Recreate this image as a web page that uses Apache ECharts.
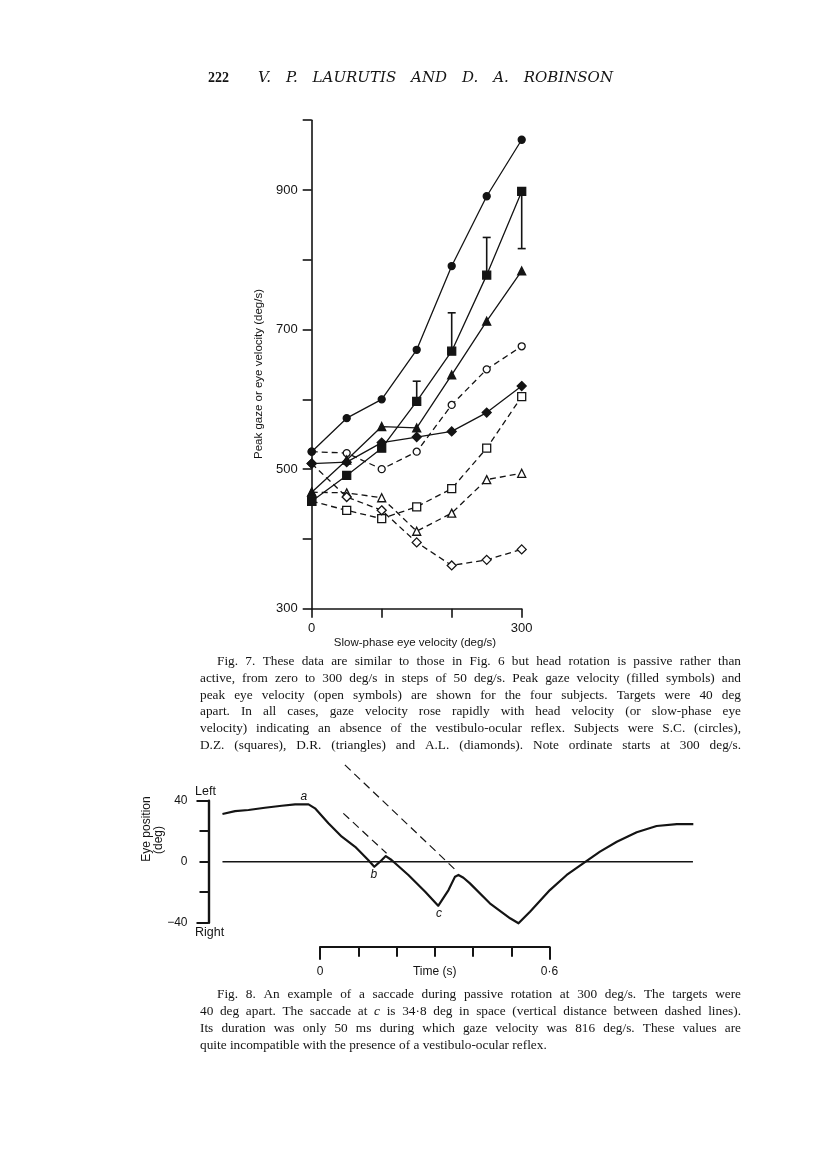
<!DOCTYPE html>
<html><head><meta charset="utf-8">
<script src="https://cdn.jsdelivr.net/npm/echarts@6/dist/echarts.min.js"></script>
<style>html,body{margin:0;padding:0;background:#fff}#c{width:816px;height:1155px}</style>
</head><body><div id="c"></div>
<script>
// ---------- Fig. 7 data ----------
const fig7X = [0, 50, 100, 150, 200, 250, 300];
const gazeSC = [525, 573, 600, 671, 791, 891, 972];
const gazeDZ = [454, 491, 530, 597, 669, 778, 898];
const gazeDR = [467, 513, 561, 559, 635, 712, 784];
const gazeAL = [508, 510, 538, 546, 554, 581, 619];
const eyeSC = [525, 523, 500, 525, 592, 643, 676];
const eyeDZ = [454, 441, 429, 446, 472, 530, 604];
const eyeDR = [467, 466, 459, 411, 437, 485, 494];
const eyeAL = [508, 460, 441, 395, 362, 370, 385];
const errBarX = [150, 200, 250, 300];
const errBarEnd = [626, 724, 832, 816];
const fig7YLabelled = [300, 500, 700, 900];
const fig7XLabelled = [0, 300];

// ---------- Fig. 8 data ----------
const traceT = [-0.255, -0.222, -0.187, -0.144, -0.100, -0.065, -0.030, -0.013, 0.022, 0.057, 0.092, 0.126, 0.142, 0.157, 0.172, 0.187, 0.231, 0.275, 0.309, 0.336, 0.353, 0.362, 0.375, 0.392, 0.444, 0.497, 0.519, 0.549, 0.601, 0.645, 0.688, 0.732, 0.776, 0.828, 0.880, 0.933, 0.976];
const traceDeg = [31.3, 33.2, 33.9, 35.4, 36.7, 37.6, 37.6, 35.0, 25.2, 16.4, 9.8, 1.1, -3.3, 0.0, 3.7, 1.1, -8.7, -19.7, -28.9, -18.6, -9.8, -8.7, -10.5, -14.2, -27.3, -37.1, -40.4, -32.8, -18.6, -8.7, -1.1, 6.6, 13.1, 19.3, 23.4, 24.7, 24.7];
const zeroLineT = [-0.255, 0.975];
const zeroLineDeg = [0, 0];
const dashLongT = [0.065, 0.359];
const dashLongDeg = [63.5, -6.5];
const dashShortT = [0.061, 0.174];
const dashShortDeg = [31.7, 5.5];
const eventNames = ['a', 'b', 'c'];
const eventT = [-0.042, 0.141, 0.311];
const eventDeg = [37.6, -3.3, -28.9];
const fig8YLabels = {'40': '40', '0': '0', '-40': '\u221240'};
const timeLabels = {'0': '0', '3': 'Time (s)', '6': '0\u00b76'};

// ---------- Texts ----------
const pageNumber = '222';
const runningTitle = ['V.', 'P.', 'LAURUTIS', 'AND', 'D.', 'A.', 'ROBINSON'];
const fig7YName = 'Peak gaze or eye velocity (deg/s)';
const fig7XName = 'Slow-phase eye velocity (deg/s)';
const caption7 = [
  'Fig. 7. These data are similar to those in Fig. 6 but head rotation is passive rather than',
  'active, from zero to 300 deg/s in steps of 50 deg/s. Peak gaze velocity (filled symbols) and',
  'peak eye velocity (open symbols) are shown for the four subjects. Targets were 40 deg',
  'apart. In all cases, gaze velocity rose rapidly with head velocity (or slow-phase eye',
  'velocity) indicating an absence of the vestibulo-ocular reflex. Subjects were S.C. (circles),',
  'D.Z. (squares), D.R. (triangles) and A.L. (diamonds). Note ordinate starts at 300 deg/s.'
];
const caption8 = [
  'Fig. 8. An example of a saccade during passive rotation at 300 deg/s. The targets were',
  '40 deg apart. The saccade at *c* is 34\u00b78 deg in space (vertical distance between dashed lines).',
  'Its duration was only 50 ms during which gaze velocity was 816 deg/s. These values are',
  'quite incompatible with the presence of a vestibulo-ocular reflex.'
];

// ---------- helpers ----------
const INK = '#141414';
const SANS = '"Liberation Sans", Arial, sans-serif';
const SERIF = '"Liberation Serif", "Times New Roman", serif';
const REG = '13.3px ' + SERIF;
const ITAL = 'italic 13.3px ' + SERIF;
const mctx = document.createElement('canvas').getContext('2d');
function tw(s, font) { mctx.font = font; return mctx.measureText(s).width; }

function justifyWords(words, fonts, x0, x1, y, justify) {
  const widths = words.map((w, k) => tw(w, fonts[k]));
  const total = widths.reduce((a, b) => a + b, 0);
  const gap = justify && words.length > 1 ? (x1 - x0 - total) / (words.length - 1) : tw(' ', fonts[0]);
  const out = [];
  let x = x0;
  words.forEach((w, k) => {
    out.push({type: 'text', x: x, y: y, silent: true,
      style: {text: w, font: fonts[k], fill: INK, textAlign: 'left', textVerticalAlign: 'middle'}});
    x += widths[k] + gap;
  });
  return out;
}
function captionEls(lines, top, lineH, left, right, indent, lastJustified) {
  let els = [];
  lines.forEach((line, i) => {
    const raw = line.split(' ');
    const fonts = raw.map(w => w.startsWith('*') ? ITAL : REG);
    const words = raw.map(w => w.replace(/\*/g, ''));
    const justify = i < lines.length - 1 || lastJustified;
    els = els.concat(justifyWords(words, fonts, left + (i === 0 ? indent : 0), right, top + i * lineH, justify));
  });
  return els;
}

// ---------- Fig. 7 series ----------
const fig7Defs = [
  {data: eyeSC, symbol: 'circle', size: 7, filled: false},
  {data: eyeDZ, symbol: 'rect', size: 8, filled: false},
  {data: eyeDR, symbol: 'triangle', size: 8, filled: false},
  {data: eyeAL, symbol: 'diamond', size: 9, filled: false},
  {data: gazeSC, symbol: 'circle', size: 7, filled: true},
  {data: gazeDZ, symbol: 'rect', size: 8, filled: true},
  {data: gazeDR, symbol: 'triangle', size: 8, filled: true},
  {data: gazeAL, symbol: 'diamond', size: 9, filled: true}
];
const series = fig7Defs.map(d => ({
  type: 'line', xAxisIndex: 0, yAxisIndex: 0,
  data: fig7X.map((x, i) => [x, d.data[i]]),
  symbol: d.symbol, symbolSize: d.size, showSymbol: true,
  z: d.filled ? 4 : 3,
  lineStyle: {color: INK, width: 1.3, type: d.filled ? 'solid' : [6, 4]},
  itemStyle: {color: d.filled ? INK : '#fff', borderColor: INK, borderWidth: 1.3},
  emphasis: {disabled: true}, animation: false
}));
series.push({
  type: 'custom', xAxisIndex: 0, yAxisIndex: 0, z: 5,
  data: errBarX.map((x, i) => [x, gazeDZ[fig7X.indexOf(x)], errBarEnd[i]]),
  encode: {x: 0, y: [1, 2]},
  renderItem: function (params, api) {
    const p0 = api.coord([api.value(0), api.value(1)]);
    const p1 = api.coord([api.value(0), api.value(2)]);
    const hw = 4;
    return {type: 'group', children: [
      {type: 'line', shape: {x1: p0[0], y1: p0[1], x2: p1[0], y2: p1[1]}, style: {stroke: INK, lineWidth: 1.6}},
      {type: 'line', shape: {x1: p1[0] - hw, y1: p1[1], x2: p1[0] + hw, y2: p1[1]}, style: {stroke: INK, lineWidth: 1.6}}
    ]};
  },
  animation: false
});

// ---------- Fig. 8 series ----------
series.push({
  type: 'line', xAxisIndex: 1, yAxisIndex: 1, showSymbol: false, symbol: 'none', clip: false,
  data: zeroLineT.map((t, i) => [t, zeroLineDeg[i]]),
  lineStyle: {color: INK, width: 1.6}, animation: false
});
series.push({
  type: 'line', xAxisIndex: 1, yAxisIndex: 1, showSymbol: false, symbol: 'none', clip: false,
  data: dashLongT.map((t, i) => [t, dashLongDeg[i]]),
  lineStyle: {color: INK, width: 1.2, type: [8, 5]}, animation: false
});
series.push({
  type: 'line', xAxisIndex: 1, yAxisIndex: 1, showSymbol: false, symbol: 'none', clip: false,
  data: dashShortT.map((t, i) => [t, dashShortDeg[i]]),
  lineStyle: {color: INK, width: 1.2, type: [8, 5]}, animation: false
});
series.push({
  type: 'line', xAxisIndex: 1, yAxisIndex: 1, showSymbol: false, symbol: 'none', clip: false,
  data: traceT.map((t, i) => [t, traceDeg[i]]),
  lineStyle: {color: INK, width: 2.2, join: 'round'}, animation: false,
  markPoint: {
    symbol: 'circle', symbolSize: 0, silent: true, animation: false,
    label: {show: true, formatter: '{b}', color: INK, fontFamily: SANS, fontStyle: 'italic', fontSize: 12},
    data: eventNames.map((n, i) => ({name: n, coord: [eventT[i], eventDeg[i]],
      label: {position: i === 0 ? 'top' : 'bottom', distance: 2}}))
  }
});

// ---------- graphic texts ----------
let graphic = [];
graphic.push({type: 'text', x: 208, y: 78, silent: true,
  style: {text: pageNumber, font: 'bold 14px ' + SERIF, fill: INK, textAlign: 'left', textVerticalAlign: 'middle'}});
graphic = graphic.concat(justifyWords(runningTitle, runningTitle.map(() => 'italic 15px "DejaVu Serif", serif'), 258, 613, 78, true));
graphic.push({type: 'text', x: 259, y: 374, rotation: Math.PI / 2, silent: true,
  style: {text: fig7YName, font: '11.5px ' + SANS, fill: INK, textAlign: 'center', textVerticalAlign: 'middle'}});
graphic.push({type: 'text', x: 415, y: 643, silent: true,
  style: {text: fig7XName, font: '11.5px ' + SANS, fill: INK, textAlign: 'center', textVerticalAlign: 'middle'}});
graphic = graphic.concat(captionEls(caption7, 661.5, 16.8, 200, 741, 17, true));
graphic.push({type: 'text', x: 147, y: 829, rotation: Math.PI / 2, silent: true,
  style: {text: 'Eye position', font: '12px ' + SANS, fill: INK, textAlign: 'center', textVerticalAlign: 'middle'}});
graphic.push({type: 'text', x: 159, y: 840, rotation: Math.PI / 2, silent: true,
  style: {text: '(deg)', font: '12px ' + SANS, fill: INK, textAlign: 'center', textVerticalAlign: 'middle'}});
graphic.push({type: 'text', x: 195, y: 792, silent: true,
  style: {text: 'Left', font: '12.5px ' + SANS, fill: INK, textAlign: 'left', textVerticalAlign: 'middle'}});
graphic.push({type: 'text', x: 195, y: 933, silent: true,
  style: {text: 'Right', font: '12.5px ' + SANS, fill: INK, textAlign: 'left', textVerticalAlign: 'middle'}});
graphic = graphic.concat(captionEls(caption8, 995, 16.8, 200, 741, 17, false));

const axisLineStyle = {color: INK, width: 1.6};
const option = {
  backgroundColor: '#fff',
  animation: false,
  textStyle: {fontFamily: SANS, color: INK},
  grid: [
    {left: 311.7, top: 120.2, width: 210, height: 488.5, outerBoundsMode: 'none'},
    {left: 208.5, top: 800.7, width: 494, height: 122, outerBoundsMode: 'none'},
    {left: 320, top: 900, width: 229.5, height: 46.7, outerBoundsMode: 'none'}
  ],
  xAxis: [
    {gridIndex: 0, type: 'value', min: 0, max: 300, interval: 100,
      axisLine: {lineStyle: axisLineStyle, onZero: false},
      axisTick: {length: 9, lineStyle: axisLineStyle},
      axisLabel: {margin: 13, fontSize: 13, color: INK, fontFamily: SANS,
        formatter: v => fig7XLabelled.includes(v) ? String(v) : ''},
      splitLine: {show: false}},
    {gridIndex: 1, type: 'value', min: -0.2915, max: 1.0, show: false},
    {gridIndex: 2, type: 'value', min: 0, max: 0.6, interval: 0.1, position: 'bottom', offset: 0,
      axisLine: {lineStyle: {color: INK, width: 2}, onZero: false},
      axisTick: {length: 10, lineStyle: {color: INK, width: 2}},
      axisLabel: {margin: 19, fontSize: 12, color: INK, fontFamily: SANS, showMinLabel: true, showMaxLabel: true,
        formatter: v => timeLabels[String(Math.round(v * 10))] || ''},
      splitLine: {show: false}},
    {gridIndex: 2, type: 'value', min: 0, max: 0.6, interval: 0.6, position: 'bottom', offset: 0,
      axisLine: {show: false, onZero: false},
      axisTick: {length: 13, lineStyle: {color: INK, width: 2}},
      axisLabel: {show: false}, splitLine: {show: false}}
  ],
  yAxis: [
    {gridIndex: 0, type: 'value', min: 300, max: 1000, interval: 100,
      axisLine: {show: true, lineStyle: axisLineStyle, onZero: false},
      axisTick: {show: true, length: 9, lineStyle: axisLineStyle},
      axisLabel: {margin: 14, fontSize: 13, color: INK, fontFamily: SANS,
        formatter: v => fig7YLabelled.includes(v) ? String(v) : ''},
      splitLine: {show: false}},
    {gridIndex: 1, type: 'value', min: -40, max: 40, interval: 20, position: 'left', offset: 0,
      axisLine: {show: true, lineStyle: {color: INK, width: 2.4}, onZero: false},
      axisTick: {show: true, length: 9, lineStyle: {color: INK, width: 2}},
      axisLabel: {margin: 21, fontSize: 12, color: INK, fontFamily: SANS,
        formatter: v => fig8YLabels[String(v)] || ''},
      splitLine: {show: false}},
    {gridIndex: 1, type: 'value', min: -40, max: 40, interval: 80, position: 'left', offset: 0,
      axisLine: {show: false, onZero: false},
      axisTick: {show: true, length: 12, lineStyle: {color: INK, width: 2}},
      axisLabel: {show: false}, splitLine: {show: false}},
    {gridIndex: 2, type: 'value', min: 0, max: 1, show: false}
  ],
  series: series,
  graphic: graphic
};
const chart = echarts.init(document.getElementById('c'), null, {renderer: 'canvas'});
chart.setOption(option);
</script>
</body></html>
